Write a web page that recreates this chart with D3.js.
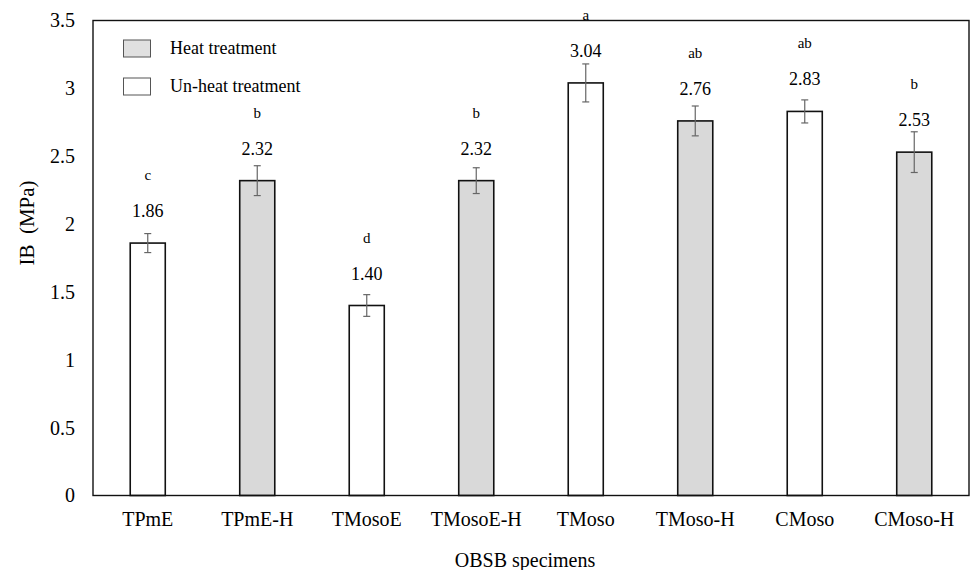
<!DOCTYPE html>
<html>
<head>
<meta charset="utf-8">
<script src="https://cdn.jsdelivr.net/npm/d3@7"></script>
<style>
  html, body { margin: 0; padding: 0; background: #fff; }
  svg, svg text { font-family: "Liberation Serif", "Times New Roman", serif; }
</style>
</head>
<body>
<svg id="chart" width="972" height="570"></svg>
<script>
// ---- data ----
const categories = ["TPmE", "TPmE-H", "TMosoE", "TMosoE-H", "TMoso", "TMoso-H", "CMoso", "CMoso-H"];
const ibValues   = [1.86, 2.32, 1.40, 2.32, 3.04, 2.76, 2.83, 2.53];
const ibErrors   = [0.07, 0.11, 0.08, 0.095, 0.14, 0.11, 0.085, 0.15];
const groupLetters = ["c", "b", "d", "b", "a", "ab", "ab", "b"];
const treatment  = ["Un-heat", "Heat", "Un-heat", "Heat", "Un-heat", "Heat", "Un-heat", "Heat"];
const yTicks     = [0, 0.5, 1, 1.5, 2, 2.5, 3, 3.5];
const yTickLabels = ["0", "0.5", "1", "1.5", "2", "2.5", "3", "3.5"];
const legendItems = [
  { key: "Heat", label: "Heat treatment" },
  { key: "Un-heat", label: "Un-heat treatment" }
];

// ---- layout ----
const FONT = "Liberation Serif, Times New Roman, serif";
const svg = d3.select("#chart").attr("font-family", FONT);
const plot = { left: 93, right: 969, top: 20.5, bottom: 495.5 };
const fillFor = { "Heat": "#d9d9d9", "Un-heat": "#ffffff" };

const x = d3.scaleBand()
  .domain(categories)
  .range([plot.left, plot.right])
  .paddingInner(0.68)
  .paddingOuter(0.34);

const y = d3.scaleLinear()
  .domain([0, 3.5])
  .range([plot.bottom, plot.top]);

const rows = categories.map((c, i) => ({
  cat: c, v: ibValues[i], e: ibErrors[i], letter: groupLetters[i], t: treatment[i]
}));

// y axis tick labels (no tick lines)
const yAxis = d3.axisLeft(y)
  .tickValues(yTicks)
  .tickFormat((d, i) => yTickLabels[i])
  .tickSize(0)
  .tickPadding(18);
const gy = svg.append("g").attr("transform", `translate(${plot.left},0)`).call(yAxis);
gy.attr("font-family", FONT);
gy.select(".domain").remove();
gy.selectAll("text").attr("font-size", 20).attr("fill", "#000").attr("font-family", FONT);

// x axis labels
const xAxis = d3.axisBottom(x).tickSize(0).tickPadding(16);
const gx = svg.append("g").attr("transform", `translate(0,${plot.bottom})`).call(xAxis);
gx.attr("font-family", FONT);
gx.select(".domain").remove();
gx.selectAll("text").attr("font-size", 20).attr("fill", "#000").attr("font-family", FONT);

// bars
svg.append("g").selectAll("rect").data(rows).join("rect")
  .attr("x", d => x(d.cat))
  .attr("y", d => y(d.v))
  .attr("width", x.bandwidth())
  .attr("height", d => y(0) - y(d.v))
  .attr("fill", d => fillFor[d.t])
  .attr("stroke", "#111")
  .attr("stroke-width", 1.6);

// error bars
const eg = svg.append("g").attr("stroke", "#666").attr("stroke-width", 1.2);
rows.forEach(d => {
  const cx = x(d.cat) + x.bandwidth() / 2;
  const y1 = y(d.v + d.e), y2 = y(d.v - d.e);
  eg.append("line").attr("x1", cx).attr("x2", cx).attr("y1", y1).attr("y2", y2);
  eg.append("line").attr("x1", cx - 3.5).attr("x2", cx + 3.5).attr("y1", y1).attr("y2", y1);
  eg.append("line").attr("x1", cx - 3.5).attr("x2", cx + 3.5).attr("y1", y2).attr("y2", y2);
});

// value labels and group letters
svg.append("g").attr("font-family", FONT).selectAll("text").data(rows).join("text")
  .attr("x", d => x(d.cat) + x.bandwidth() / 2)
  .attr("y", d => y(d.v) - 32 + 6)
  .attr("text-anchor", "middle")
  .attr("font-size", 18)
  .attr("font-family", FONT)
  .text(d => d3.format(".2f")(d.v));

svg.append("g").attr("font-family", FONT).selectAll("text").data(rows).join("text")
  .attr("x", d => x(d.cat) + x.bandwidth() / 2)
  .attr("y", d => y(d.v) - 68 + 5)
  .attr("text-anchor", "middle")
  .attr("font-size", 15)
  .attr("font-family", FONT)
  .text(d => d.letter);

// plot frame
svg.append("rect")
  .attr("x", plot.left).attr("y", plot.top)
  .attr("width", plot.right - plot.left).attr("height", plot.bottom - plot.top)
  .attr("fill", "none").attr("stroke", "#111").attr("stroke-width", 1.4);

// legend
const lg = svg.append("g").attr("font-family", FONT);
legendItems.forEach((it, i) => {
  const yy = 40 + i * 38;
  lg.append("rect").attr("x", 123.5).attr("y", yy).attr("width", 27).attr("height", 17)
    .attr("fill", it.key === "Heat" ? "#e0e0e0" : "#fff")
    .attr("stroke", "#555").attr("stroke-width", 1);
  lg.append("text").attr("x", 170).attr("y", yy + 14)
    .attr("font-size", 18).attr("font-family", FONT).text(it.label);
});

// axis titles
svg.append("text")
  .attr("transform", `translate(34,223) rotate(-90)`)
  .attr("text-anchor", "middle")
  .attr("font-size", 21)
  .attr("font-family", FONT)
  .style("white-space", "pre")
  .text("IB  (MPa)");

svg.append("text")
  .attr("x", 525).attr("y", 567)
  .attr("text-anchor", "middle")
  .attr("font-size", 20)
  .attr("font-family", FONT)
  .text("OBSB specimens");
</script>
</body>
</html>
